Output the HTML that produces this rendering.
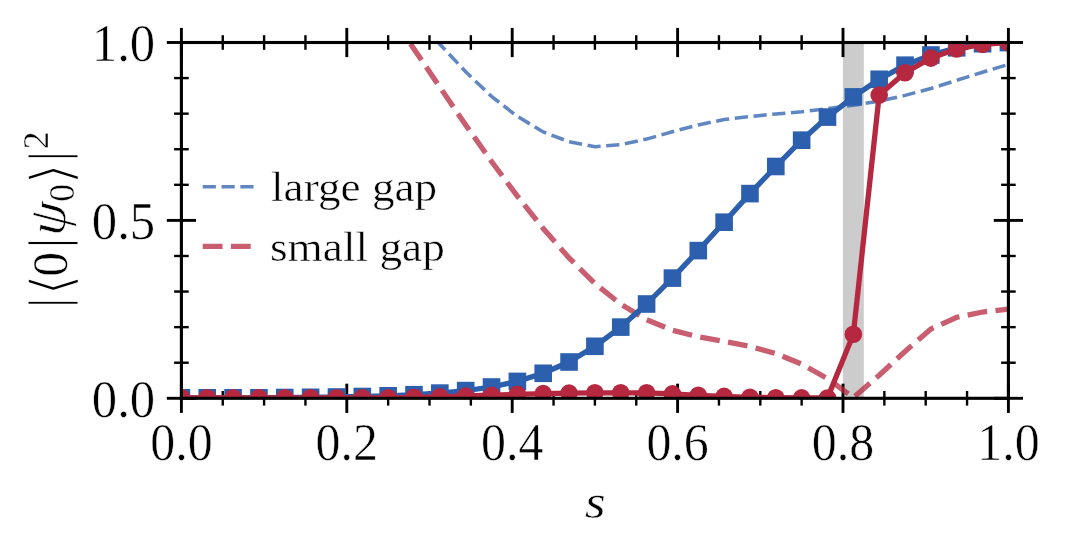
<!DOCTYPE html>
<html lang="en"><head><meta charset="utf-8"><title>Ground state overlap vs s</title>
<style>html,body{margin:0;padding:0;background:#fff;}body{width:1065px;height:553px;overflow:hidden;}svg{display:block;}text{font-family:"Liberation Serif","DejaVu Serif",serif;fill:#000;}</style></head><body>
<svg width="1065" height="553" viewBox="0 0 1065 553">
<rect width="1065" height="553" fill="#fff"/>
<defs><clipPath id="ax"><rect x="181.40" y="42.50" width="827.00" height="355.80"/></clipPath></defs>
<rect x="842.90" y="42.50" width="20.90" height="355.80" fill="#cccccc"/>
<g stroke="#000" stroke-width="2.5" fill="none">
<path d="M181.40,27.90 V57.10" stroke-width="2.9"/>
<path d="M181.40,383.70 V412.90" stroke-width="2.9"/>
<path d="M222.75,35.20 V49.80" stroke-width="2.4"/>
<path d="M222.75,391.00 V405.60" stroke-width="2.4"/>
<path d="M264.10,35.20 V49.80" stroke-width="2.4"/>
<path d="M264.10,391.00 V405.60" stroke-width="2.4"/>
<path d="M305.45,35.20 V49.80" stroke-width="2.4"/>
<path d="M305.45,391.00 V405.60" stroke-width="2.4"/>
<path d="M346.80,27.90 V57.10" stroke-width="2.9"/>
<path d="M346.80,383.70 V412.90" stroke-width="2.9"/>
<path d="M388.15,35.20 V49.80" stroke-width="2.4"/>
<path d="M388.15,391.00 V405.60" stroke-width="2.4"/>
<path d="M429.50,35.20 V49.80" stroke-width="2.4"/>
<path d="M429.50,391.00 V405.60" stroke-width="2.4"/>
<path d="M470.85,35.20 V49.80" stroke-width="2.4"/>
<path d="M470.85,391.00 V405.60" stroke-width="2.4"/>
<path d="M512.20,27.90 V57.10" stroke-width="2.9"/>
<path d="M512.20,383.70 V412.90" stroke-width="2.9"/>
<path d="M553.55,35.20 V49.80" stroke-width="2.4"/>
<path d="M553.55,391.00 V405.60" stroke-width="2.4"/>
<path d="M594.90,35.20 V49.80" stroke-width="2.4"/>
<path d="M594.90,391.00 V405.60" stroke-width="2.4"/>
<path d="M636.25,35.20 V49.80" stroke-width="2.4"/>
<path d="M636.25,391.00 V405.60" stroke-width="2.4"/>
<path d="M677.60,27.90 V57.10" stroke-width="2.9"/>
<path d="M677.60,383.70 V412.90" stroke-width="2.9"/>
<path d="M718.95,35.20 V49.80" stroke-width="2.4"/>
<path d="M718.95,391.00 V405.60" stroke-width="2.4"/>
<path d="M760.30,35.20 V49.80" stroke-width="2.4"/>
<path d="M760.30,391.00 V405.60" stroke-width="2.4"/>
<path d="M801.65,35.20 V49.80" stroke-width="2.4"/>
<path d="M801.65,391.00 V405.60" stroke-width="2.4"/>
<path d="M843.00,27.90 V57.10" stroke-width="2.9"/>
<path d="M843.00,383.70 V412.90" stroke-width="2.9"/>
<path d="M884.35,35.20 V49.80" stroke-width="2.4"/>
<path d="M884.35,391.00 V405.60" stroke-width="2.4"/>
<path d="M925.70,35.20 V49.80" stroke-width="2.4"/>
<path d="M925.70,391.00 V405.60" stroke-width="2.4"/>
<path d="M967.05,35.20 V49.80" stroke-width="2.4"/>
<path d="M967.05,391.00 V405.60" stroke-width="2.4"/>
<path d="M1008.40,27.90 V57.10" stroke-width="2.9"/>
<path d="M1008.40,383.70 V412.90" stroke-width="2.9"/>
<path d="M166.80,398.30 H196.00" stroke-width="2.9"/>
<path d="M993.80,398.30 H1023.00" stroke-width="2.9"/>
<path d="M174.10,362.72 H188.70" stroke-width="2.4"/>
<path d="M1001.10,362.72 H1015.70" stroke-width="2.4"/>
<path d="M174.10,327.14 H188.70" stroke-width="2.4"/>
<path d="M1001.10,327.14 H1015.70" stroke-width="2.4"/>
<path d="M174.10,291.56 H188.70" stroke-width="2.4"/>
<path d="M1001.10,291.56 H1015.70" stroke-width="2.4"/>
<path d="M174.10,255.98 H188.70" stroke-width="2.4"/>
<path d="M1001.10,255.98 H1015.70" stroke-width="2.4"/>
<path d="M166.80,220.40 H196.00" stroke-width="2.9"/>
<path d="M993.80,220.40 H1023.00" stroke-width="2.9"/>
<path d="M174.10,184.82 H188.70" stroke-width="2.4"/>
<path d="M1001.10,184.82 H1015.70" stroke-width="2.4"/>
<path d="M174.10,149.24 H188.70" stroke-width="2.4"/>
<path d="M1001.10,149.24 H1015.70" stroke-width="2.4"/>
<path d="M174.10,113.66 H188.70" stroke-width="2.4"/>
<path d="M1001.10,113.66 H1015.70" stroke-width="2.4"/>
<path d="M174.10,78.08 H188.70" stroke-width="2.4"/>
<path d="M1001.10,78.08 H1015.70" stroke-width="2.4"/>
<path d="M166.80,42.50 H196.00" stroke-width="2.9"/>
<path d="M993.80,42.50 H1023.00" stroke-width="2.9"/>
</g>
<g clip-path="url(#ax)">
<path d="M388.15,10.00 L413.99,49.00 L439.84,87.10 L465.68,124.90 L491.52,161.50 L517.37,196.10 L543.21,228.50 L569.06,257.90 L594.90,283.50 L620.74,304.10 L646.59,319.70 L672.43,330.20 L698.27,336.80 L724.12,341.40 L749.96,346.40 L775.81,353.50 L801.65,364.10 L827.49,378.60 L853.34,397.70 L879.18,375.30 L905.02,351.50 L930.87,329.00 L956.71,317.30 L982.56,312.00 L1008.40,309.10" fill="none" stroke="#b5283f" stroke-opacity="0.75" stroke-width="5.30" stroke-dasharray="19.80 8.40" stroke-dashoffset="16.01"/>
<path d="M181.40,397.80 L207.24,397.80 L233.09,397.80 L258.93,397.80 L284.77,397.50 L310.62,397.30 L336.46,397.00 L362.31,396.50 L388.15,395.80 L413.99,394.70 L439.84,393.10 L465.68,390.60 L491.52,387.00 L517.37,381.40 L543.21,373.30 L569.06,362.00 L594.90,346.30 L620.74,327.10 L646.59,304.00 L672.43,278.10 L698.27,250.60 L724.12,222.20 L749.96,193.60 L775.81,166.50 L801.65,140.20 L827.49,117.10 L853.34,96.90 L879.18,79.30 L905.02,65.20 L930.87,55.00 L956.71,47.80 L982.56,43.70 L1008.40,42.60" fill="none" stroke="#2c5fad" stroke-width="5.30" stroke-linejoin="round"/>
<rect x="172.60" y="389.00" width="17.60" height="17.60" fill="#2c5fad"/>
<rect x="198.44" y="389.00" width="17.60" height="17.60" fill="#2c5fad"/>
<rect x="224.29" y="389.00" width="17.60" height="17.60" fill="#2c5fad"/>
<rect x="250.13" y="389.00" width="17.60" height="17.60" fill="#2c5fad"/>
<rect x="275.97" y="388.70" width="17.60" height="17.60" fill="#2c5fad"/>
<rect x="301.82" y="388.50" width="17.60" height="17.60" fill="#2c5fad"/>
<rect x="327.66" y="388.20" width="17.60" height="17.60" fill="#2c5fad"/>
<rect x="353.51" y="387.70" width="17.60" height="17.60" fill="#2c5fad"/>
<rect x="379.35" y="387.00" width="17.60" height="17.60" fill="#2c5fad"/>
<rect x="405.19" y="385.90" width="17.60" height="17.60" fill="#2c5fad"/>
<rect x="431.04" y="384.30" width="17.60" height="17.60" fill="#2c5fad"/>
<rect x="456.88" y="381.80" width="17.60" height="17.60" fill="#2c5fad"/>
<rect x="482.72" y="378.20" width="17.60" height="17.60" fill="#2c5fad"/>
<rect x="508.57" y="372.60" width="17.60" height="17.60" fill="#2c5fad"/>
<rect x="534.41" y="364.50" width="17.60" height="17.60" fill="#2c5fad"/>
<rect x="560.26" y="353.20" width="17.60" height="17.60" fill="#2c5fad"/>
<rect x="586.10" y="337.50" width="17.60" height="17.60" fill="#2c5fad"/>
<rect x="611.94" y="318.30" width="17.60" height="17.60" fill="#2c5fad"/>
<rect x="637.79" y="295.20" width="17.60" height="17.60" fill="#2c5fad"/>
<rect x="663.63" y="269.30" width="17.60" height="17.60" fill="#2c5fad"/>
<rect x="689.48" y="241.80" width="17.60" height="17.60" fill="#2c5fad"/>
<rect x="715.32" y="213.40" width="17.60" height="17.60" fill="#2c5fad"/>
<rect x="741.16" y="184.80" width="17.60" height="17.60" fill="#2c5fad"/>
<rect x="767.01" y="157.70" width="17.60" height="17.60" fill="#2c5fad"/>
<rect x="792.85" y="131.40" width="17.60" height="17.60" fill="#2c5fad"/>
<rect x="818.69" y="108.30" width="17.60" height="17.60" fill="#2c5fad"/>
<rect x="844.54" y="88.10" width="17.60" height="17.60" fill="#2c5fad"/>
<rect x="870.38" y="70.50" width="17.60" height="17.60" fill="#2c5fad"/>
<rect x="896.23" y="56.40" width="17.60" height="17.60" fill="#2c5fad"/>
<rect x="922.07" y="46.20" width="17.60" height="17.60" fill="#2c5fad"/>
<rect x="947.91" y="39.00" width="17.60" height="17.60" fill="#2c5fad"/>
<rect x="973.76" y="34.90" width="17.60" height="17.60" fill="#2c5fad"/>
<rect x="999.60" y="33.80" width="17.60" height="17.60" fill="#2c5fad"/>
<path d="M413.99,15.70 L439.84,44.20 L465.68,71.80 L491.52,96.40 L517.37,116.40 L543.21,131.90 L569.06,141.70 L594.90,146.70 L620.74,144.60 L646.59,139.10 L672.43,131.70 L698.27,124.90 L724.12,119.50 L749.96,116.50 L775.81,114.00 L801.65,111.70 L827.49,108.70 L853.34,105.20 L879.18,101.10 L905.02,95.40 L930.87,88.45 L956.71,80.30 L982.56,72.20 L1008.40,64.50" fill="none" stroke="#2c5fad" stroke-opacity="0.75" stroke-width="3.55" stroke-dasharray="13.20 5.62" stroke-dashoffset="4.56"/>
<path d="M181.40,397.80 L207.24,397.80 L233.09,397.80 L258.93,397.80 L284.77,397.80 L310.62,397.80 L336.46,397.80 L362.31,397.80 L388.15,397.80 L413.99,397.30 L439.84,396.80 L465.68,396.00 L491.52,395.20 L517.37,394.30 L543.21,393.60 L569.06,393.10 L594.90,392.80 L620.74,392.80 L646.59,392.80 L672.43,393.90 L698.27,395.30 L724.12,396.40 L749.96,397.30 L775.81,397.70 L801.65,397.90 L827.49,398.00 L853.34,334.30 L879.18,95.10 L905.02,72.80 L930.87,58.10 L956.71,49.00 L982.56,44.40 L1008.40,42.70" fill="none" stroke="#b5283f" stroke-width="5.30" stroke-linejoin="round"/>
<circle cx="181.40" cy="397.80" r="8.80" fill="#b5283f"/>
<circle cx="207.24" cy="397.80" r="8.80" fill="#b5283f"/>
<circle cx="233.09" cy="397.80" r="8.80" fill="#b5283f"/>
<circle cx="258.93" cy="397.80" r="8.80" fill="#b5283f"/>
<circle cx="284.77" cy="397.80" r="8.80" fill="#b5283f"/>
<circle cx="310.62" cy="397.80" r="8.80" fill="#b5283f"/>
<circle cx="336.46" cy="397.80" r="8.80" fill="#b5283f"/>
<circle cx="362.31" cy="397.80" r="8.80" fill="#b5283f"/>
<circle cx="388.15" cy="397.80" r="8.80" fill="#b5283f"/>
<circle cx="413.99" cy="397.30" r="8.80" fill="#b5283f"/>
<circle cx="439.84" cy="396.80" r="8.80" fill="#b5283f"/>
<circle cx="465.68" cy="396.00" r="8.80" fill="#b5283f"/>
<circle cx="491.52" cy="395.20" r="8.80" fill="#b5283f"/>
<circle cx="517.37" cy="394.30" r="8.80" fill="#b5283f"/>
<circle cx="543.21" cy="393.60" r="8.80" fill="#b5283f"/>
<circle cx="569.06" cy="393.10" r="8.80" fill="#b5283f"/>
<circle cx="594.90" cy="392.80" r="8.80" fill="#b5283f"/>
<circle cx="620.74" cy="392.80" r="8.80" fill="#b5283f"/>
<circle cx="646.59" cy="392.80" r="8.80" fill="#b5283f"/>
<circle cx="672.43" cy="393.90" r="8.80" fill="#b5283f"/>
<circle cx="698.27" cy="395.30" r="8.80" fill="#b5283f"/>
<circle cx="724.12" cy="396.40" r="8.80" fill="#b5283f"/>
<circle cx="749.96" cy="397.30" r="8.80" fill="#b5283f"/>
<circle cx="775.81" cy="397.70" r="8.80" fill="#b5283f"/>
<circle cx="801.65" cy="397.90" r="8.80" fill="#b5283f"/>
<circle cx="827.49" cy="398.00" r="8.80" fill="#b5283f"/>
<circle cx="853.34" cy="334.30" r="8.80" fill="#b5283f"/>
<circle cx="879.18" cy="95.10" r="8.80" fill="#b5283f"/>
<circle cx="905.02" cy="72.80" r="8.80" fill="#b5283f"/>
<circle cx="930.87" cy="58.10" r="8.80" fill="#b5283f"/>
<circle cx="956.71" cy="49.00" r="8.80" fill="#b5283f"/>
<circle cx="982.56" cy="44.40" r="8.80" fill="#b5283f"/>
<circle cx="1008.40" cy="42.70" r="8.80" fill="#b5283f"/>
</g>
<rect x="181.40" y="42.50" width="827.00" height="355.80" fill="none" stroke="#000" stroke-width="3.1"/>
<text x="181.40" y="460.1" font-size="52" text-anchor="middle" textLength="62.4" lengthAdjust="spacingAndGlyphs" stroke="#fff" stroke-width="0.5">0.0</text>
<text x="346.80" y="460.1" font-size="52" text-anchor="middle" textLength="62.4" lengthAdjust="spacingAndGlyphs" stroke="#fff" stroke-width="0.5">0.2</text>
<text x="512.20" y="460.1" font-size="52" text-anchor="middle" textLength="62.4" lengthAdjust="spacingAndGlyphs" stroke="#fff" stroke-width="0.5">0.4</text>
<text x="677.60" y="460.1" font-size="52" text-anchor="middle" textLength="62.4" lengthAdjust="spacingAndGlyphs" stroke="#fff" stroke-width="0.5">0.6</text>
<text x="843.00" y="460.1" font-size="52" text-anchor="middle" textLength="62.4" lengthAdjust="spacingAndGlyphs" stroke="#fff" stroke-width="0.5">0.8</text>
<text x="1008.40" y="460.1" font-size="52" text-anchor="middle" textLength="62.4" lengthAdjust="spacingAndGlyphs" stroke="#fff" stroke-width="0.5">1.0</text>
<text x="155.2" y="60.70" font-size="52" text-anchor="end" textLength="63.4" lengthAdjust="spacingAndGlyphs" stroke="#fff" stroke-width="0.5">1.0</text>
<text x="155.2" y="238.80" font-size="52" text-anchor="end" textLength="63.4" lengthAdjust="spacingAndGlyphs" stroke="#fff" stroke-width="0.5">0.5</text>
<text x="155.2" y="416.70" font-size="52" text-anchor="end" textLength="63.4" lengthAdjust="spacingAndGlyphs" stroke="#fff" stroke-width="0.5">0.0</text>
<text x="595.2" y="518.2" font-size="48" font-style="italic" text-anchor="middle" textLength="21" lengthAdjust="spacingAndGlyphs" stroke="#fff" stroke-width="0.5">s</text>
<text transform="rotate(-90)"><tspan x="-308.31" y="66.40" font-size="55.05" stroke="#fff" stroke-width="0.90">|</tspan><tspan x="-295.91" y="70.90" font-size="57.20" font-family="'DejaVu Sans',sans-serif" stroke="#fff" stroke-width="2.00">⟨</tspan><tspan x="-276.75" y="66.50" font-size="50.00" stroke="#fff" stroke-width="0.50">0</tspan><tspan x="-248.60" y="66.40" font-size="55.05" stroke="#fff" stroke-width="0.90">|</tspan><tspan x="-236.46" y="64.00" font-size="54.00" font-style="italic" stroke="#fff" stroke-width="0.70" rotate="4.5">ψ</tspan><tspan x="-201.73" y="73.85" font-size="35.70" stroke="#fff" stroke-width="0.40">0</tspan><tspan x="-184.95" y="70.90" font-size="57.20" font-family="'DejaVu Sans',sans-serif" stroke="#fff" stroke-width="2.00">⟩</tspan><tspan x="-161.70" y="66.40" font-size="55.05" stroke="#fff" stroke-width="0.90">|</tspan><tspan x="-149.23" y="48.30" font-size="35.70" stroke="#fff" stroke-width="0.40">2</tspan></text>
<path d="M202.7,186.8 H253.6" stroke="#2c5fad" stroke-opacity="0.75" stroke-width="3.55" stroke-dasharray="13.20 5.62" fill="none"/>
<path d="M202.7,246.4 H250.8" stroke="#b5283f" stroke-opacity="0.75" stroke-width="5.30" stroke-dasharray="19.80 8.40" fill="none"/>
<text x="271" y="201.3" font-size="41.7" textLength="166.2" lengthAdjust="spacingAndGlyphs" stroke="#fff" stroke-width="0.5">large gap</text>
<text x="270" y="260.9" font-size="41.7" textLength="174.8" lengthAdjust="spacingAndGlyphs" stroke="#fff" stroke-width="0.5">small gap</text>
</svg></body></html>
